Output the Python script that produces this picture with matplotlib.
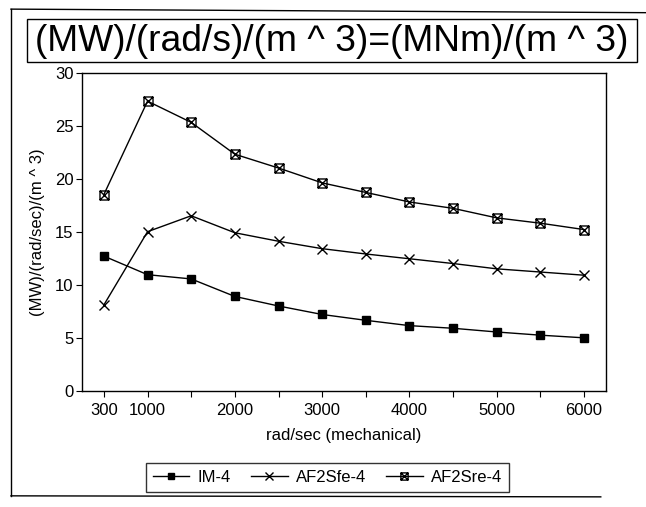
import matplotlib
matplotlib.use("Agg")
import matplotlib.pyplot as plt
from matplotlib.path import Path
from matplotlib.patches import Rectangle
from matplotlib.lines import Line2D

plt.rcParams['font.family'] = ['Liberation Sans', 'DejaVu Sans']

# ---------------- data ----------------
speeds = ["300", "1000", "1500", "2000", "2500", "3000",
          "3500", "4000", "4500", "5000", "5500", "6000"]
shown_labels = ["300", "1000", "2000", "3000", "4000", "5000", "6000"]

im4 = [12.7, 10.95, 10.55, 8.9, 8.0, 7.2, 6.65, 6.15, 5.9, 5.55, 5.25, 5.0]
af2sfe4 = [8.1, 15.0, 16.5, 14.9, 14.1, 13.4, 12.9, 12.45, 12.0, 11.5, 11.2, 10.9]
af2sre4 = [18.5, 27.3, 25.3, 22.3, 21.0, 19.6, 18.7, 17.8, 17.2, 16.3, 15.8, 15.2]

y_ticks = [0, 5, 10, 15, 20, 25, 30]

# square with an X inside, hollow
boxx = Path(
    [(-1, -1), (1, -1), (1, 1), (-1, 1), (-1, -1),
     (-1, -1), (1, 1), (-1, 1), (1, -1)],
    [Path.MOVETO, Path.LINETO, Path.LINETO, Path.LINETO, Path.CLOSEPOLY,
     Path.MOVETO, Path.LINETO, Path.MOVETO, Path.LINETO])

# ---------------- figure ----------------
fig = plt.figure(figsize=(6.46, 5.07), dpi=100)
ax = fig.add_axes([0.127, 0.229, 0.811, 0.628])

x = list(range(len(speeds)))
ax.plot(x, im4, color="black", lw=1, marker="s", ms=5.5, mfc="black", label="IM-4")
ax.plot(x, af2sfe4, color="black", lw=1, marker="x", ms=7, mew=1, label="AF2Sfe-4")
ax.plot(x, af2sre4, color="black", lw=1, marker=boxx, ms=6.5, mew=1, mfc="none",
        label="AF2Sre-4")

ax.set_xlim(-0.5, len(speeds) - 0.5)
ax.set_ylim(0, 30)
ax.set_yticks(y_ticks)
ax.set_xticks(x)
ax.set_xticklabels([s if s in shown_labels else "" for s in speeds])
ax.tick_params(direction="out", length=4, width=0.8, labelsize=12, colors="black")
ax.tick_params(axis="x", pad=5)
ax.tick_params(axis="y", pad=2)
for sp in ax.spines.values():
    sp.set_linewidth(1)
    sp.set_color("black")

ax.set_xlabel("rad/sec (mechanical)", fontsize=12, labelpad=7)
ax.set_ylabel("(MW)/(rad/sec)/(m ^ 3)", fontsize=12, labelpad=7)

# title in its own box
fig.patches.append(Rectangle((0.042, 0.878), 0.944, 0.085, transform=fig.transFigure,
                             fill=False, edgecolor="black", lw=1))
fig.text(0.514, 0.919, "(MW)/(rad/s)/(m ^ 3)=(MNm)/(m ^ 3)", fontsize=26.8,
         ha="center", va="center")

# outer border of the scanned figure
for xs, ys in [([0.017, 0.017], [0.022, 0.982]),
               ([0.017, 1.0], [0.982, 0.975]),
               ([0.017, 0.93], [0.022, 0.02])]:
    fig.lines.append(Line2D(xs, ys, transform=fig.transFigure, color="black", lw=1))

leg = fig.legend(loc="center", bbox_to_anchor=(0.507, 0.058), ncol=3, fontsize=12,
                 frameon=True, fancybox=False, edgecolor="black", handlelength=2.2,
                 columnspacing=1.2, handletextpad=0.5, borderpad=0.4, markerscale=0.8)
leg.get_frame().set_linewidth(1)

fig.savefig("out.png", dpi=100)
